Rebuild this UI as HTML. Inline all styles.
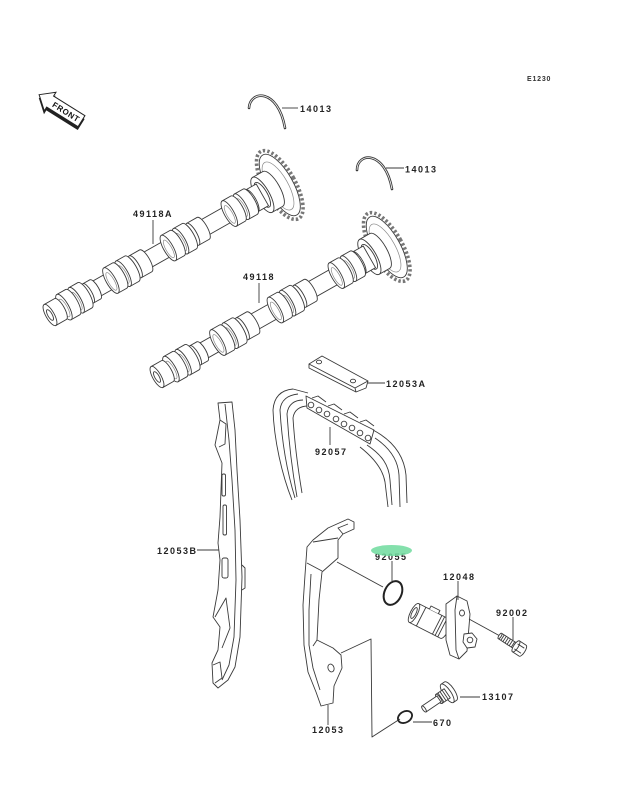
<!DOCTYPE html>
<html><head><meta charset="utf-8">
<style>
html,body{margin:0;padding:0;background:#fff;}
svg{display:block;}
.l{fill:#fff;stroke:#3a3a3a;stroke-width:0.9;stroke-linejoin:round}
.n{fill:none;stroke:#3a3a3a;stroke-width:0.9;stroke-linejoin:round}
.g{fill:none;stroke:#888;stroke-width:0.7}
.t{font-family:"Liberation Sans",Arial,sans-serif;font-weight:bold;font-size:9px;letter-spacing:1.5px;fill:#222}
</style></head>
<body>
<svg width="630" height="805" viewBox="0 0 630 805" xmlns="http://www.w3.org/2000/svg">
<defs>
<g id="cam">
  <!-- sprocket -->
  <ellipse cx="264" cy="0" rx="15.5" ry="38.5" fill="#fff" stroke="#777" stroke-width="3.6" stroke-dasharray="2.4 2.1"/>
  <ellipse cx="264" cy="0" rx="13.2" ry="34.5" class="l"/>
  <ellipse cx="262" cy="0" rx="10" ry="27" class="g"/>
  <!-- hub -->
  <path class="l" d="M244,-20H256A7,20 0 0 1 256,20H244Z"/>
  <ellipse class="l" cx="244" cy="0" rx="7" ry="20"/>
  <ellipse class="n" cx="244" cy="0" rx="5" ry="14"/>
  <!-- journal -->
  <path class="l" d="M232,-12.5H244V12.5H232Z"/>
  <ellipse class="l" cx="232" cy="0" rx="4.2" ry="12.5"/>
  <!-- shaft -->
  <path class="l" d="M6,-8.5H234V8.5H6Z"/>
  <!-- lobes far to near -->
  <path class="l" d="M220,-14.5H230A4.8,14.5 0 0 1 230,14.5H220Z"/><ellipse class="l" cx="220" cy="0" rx="4.8" ry="14.5"/><ellipse class="g" cx="220" cy="1" rx="3" ry="10"/>
  <path class="l" d="M206,-14.5H216A4.8,14.5 0 0 1 216,14.5H206Z"/><ellipse class="l" cx="206" cy="0" rx="4.8" ry="14.5"/><ellipse class="g" cx="206" cy="1" rx="3" ry="10"/>
  <path class="l" d="M164,-12.5H176A4.1,12.5 0 0 1 176,12.5H164Z"/><ellipse class="l" cx="164" cy="0" rx="4.1" ry="12.5"/>
  <path class="l" d="M150,-14.5H160A4.8,14.5 0 0 1 160,14.5H150Z"/><ellipse class="l" cx="150" cy="0" rx="4.8" ry="14.5"/><ellipse class="g" cx="150" cy="1" rx="3" ry="10"/>
  <path class="l" d="M136,-14.5H146A4.8,14.5 0 0 1 146,14.5H136Z"/><ellipse class="l" cx="136" cy="0" rx="4.8" ry="14.5"/><ellipse class="g" cx="136" cy="1" rx="3" ry="10"/>
  <path class="l" d="M98,-12.5H110A4.1,12.5 0 0 1 110,12.5H98Z"/><ellipse class="l" cx="98" cy="0" rx="4.1" ry="12.5"/>
  <path class="l" d="M84,-14.5H94A4.8,14.5 0 0 1 94,14.5H84Z"/><ellipse class="l" cx="84" cy="0" rx="4.8" ry="14.5"/><ellipse class="g" cx="84" cy="1" rx="3" ry="10"/>
  <path class="l" d="M70,-14.5H80A4.8,14.5 0 0 1 80,14.5H70Z"/><ellipse class="l" cx="70" cy="0" rx="4.8" ry="14.5"/><ellipse class="g" cx="70" cy="1" rx="3" ry="10"/>
  <path class="l" d="M44,-11H52A3.6,11 0 0 1 52,11H44Z"/><ellipse class="l" cx="44" cy="0" rx="3.6" ry="11"/>
  <path class="l" d="M30,-14.5H40A4.8,14.5 0 0 1 40,14.5H30Z"/><ellipse class="l" cx="30" cy="0" rx="4.8" ry="14.5"/><ellipse class="g" cx="30" cy="1" rx="3" ry="10"/>
  <path class="l" d="M16,-14.5H26A4.8,14.5 0 0 1 26,14.5H16Z"/><ellipse class="l" cx="16" cy="0" rx="4.8" ry="14.5"/><ellipse class="g" cx="16" cy="1" rx="3" ry="10"/>
  <path class="l" d="M0,-12H12A4,12 0 0 1 12,12H0Z"/><ellipse class="l" cx="0" cy="0" rx="4.2" ry="12"/>
  <ellipse class="l" cx="0" cy="0" rx="2.2" ry="6"/>
</g>
</defs>

<!-- E1230 -->
<text x="527" y="81" font-family="Liberation Sans, Arial, sans-serif" font-weight="bold" font-size="7" letter-spacing="0.8" fill="#333">E1230</text>

<!-- FRONT arrow -->
<g transform="translate(62,109) rotate(32)">
  <path d="M-25.5,3 L-12.5,-8 L-12.5,-3.5 L24.5,-3.5 L24.5,9.5 L-12.5,9.5 L-12.5,14 Z" fill="#222"/>
  <path d="M-27,0 L-14,-11 L-14,-6.5 L23,-6.5 L23,6.5 L-14,6.5 L-14,11 Z" fill="#fff" stroke="#222" stroke-width="1"/>
  <text x="5" y="3.2" text-anchor="middle" font-family="Liberation Sans, Arial, sans-serif" font-weight="bold" font-size="8" letter-spacing="0.6" fill="#111">FRONT</text>
</g>

<!-- 14013 rings -->
<path d="M249,108 C250,90 278,88 285,128" fill="none" stroke="#3a3a3a" stroke-width="2.6" stroke-linecap="round"/>
<path d="M249,108 C250,90 278,88 285,128" fill="none" stroke="#fff" stroke-width="0.8"/>
<line class="n" x1="282" y1="108" x2="298" y2="108"/>
<text class="t" x="300" y="112">14013</text>

<path d="M357,170 C357,152 385,150 392,189" fill="none" stroke="#3a3a3a" stroke-width="2.6" stroke-linecap="round"/>
<path d="M357,170 C357,152 385,150 392,189" fill="none" stroke="#fff" stroke-width="0.8"/>
<line class="n" x1="386" y1="168" x2="404" y2="168"/>
<text class="t" x="405" y="172.5">14013</text>

<!-- camshafts -->
<use href="#cam" transform="translate(50,315) rotate(-29.5)"/>
<use href="#cam" transform="translate(157,377) rotate(-29.5)"/>
<line class="n" x1="153" y1="220" x2="153" y2="244"/>
<text class="t" x="133" y="217">49118A</text>
<line class="n" x1="259" y1="283" x2="259" y2="303"/>
<text class="t" x="243" y="280">49118</text>

<!-- 12053A plate -->
<path class="l" d="M309,364 L322,356 L368,381 L366,388 L356,392 L309,368 Z"/>
<path class="n" d="M309,364 L355,388 L356,392 M355,388 L368,381"/>
<ellipse class="n" cx="319" cy="362" rx="2.6" ry="1.8"/>
<ellipse class="n" cx="353" cy="381" rx="2.6" ry="1.8"/>
<line class="n" x1="367" y1="383" x2="385" y2="383"/>
<text class="t" x="386" y="387">12053A</text>

<!-- chain 92057 -->
<path class="n" d="M293,389 C282,390 274,396 273,410 C274,440 282,475 292,500"/>
<path class="n" d="M298,394 C288,395 281,400 280,410 C282,445 288,475 295,498"/>
<path class="n" d="M303,400 C295,400 288,404 287,414 C289,445 293,475 297,497"/>
<path class="n" d="M308,406 C300,406 294,410 293,418 C295,450 299,475 302,493"/>
<path class="n" d="M293,389 L308,393"/>
<path class="l" d="M306,396 L374,430 L370,444 L307,408 Z"/>
<g class="l">
  <circle cx="311" cy="405" r="2.8"/><circle cx="319" cy="410" r="2.8"/><circle cx="327" cy="414" r="2.8"/>
  <circle cx="336" cy="419" r="2.8"/><circle cx="344" cy="424" r="2.8"/><circle cx="352" cy="428" r="2.8"/>
  <circle cx="360" cy="433" r="2.8"/><circle cx="368" cy="438" r="2.8"/>
</g>
<path class="n" d="M312,398 L318,396 L326,402 M328,406 L334,404 L342,410 M344,414 L350,412 L358,418 M360,422 L366,420 L374,426"/>
<path class="n" d="M373,430 C392,440 404,455 406,475 L407,503"/>
<path class="n" d="M375,438 C390,448 398,460 399,475 L400,507"/>
<path class="n" d="M367,445 C382,455 389,465 390,480 L392,505"/>
<path class="n" d="M360,447 C374,458 383,470 385,482 L388,507"/>
<line class="n" x1="330" y1="427" x2="330" y2="445"/>
<text class="t" x="315" y="455">92057</text>

<!-- 12053B guide -->
<path class="l" d="M218,403 L232,402 L235,430 L237,470 L240,520 L242,577 L240,637 L235,667 L228,680 L218,688 L213,683 L212,663 L218,650 L220,627 L213,617 L218,590 L220,560 L218,543 L220,517 L222,463 L215,445 L220,420 Z"/>
<path class="n" d="M225,404 L229,440 L232,480 L235,530 L236,580 L234,637 L229,665 L222,680"/>
<path class="n" d="M220,420 L226,424 L225,444 L219,447"/>
<rect class="n" x="222" y="474" width="3.5" height="22" rx="1.5"/>
<rect class="n" x="223" y="505" width="3.5" height="30" rx="1.5"/>
<rect class="n" x="222" y="558" width="6" height="20" rx="2"/>
<path class="n" d="M215,617 L226,598 L230,628 L222,648"/>
<path class="n" d="M213,665 L220,662 L222,678 L215,683"/>
<path class="n" d="M242,565 L245,568 L245,588 L242,590"/>
<line class="n" x1="197" y1="550" x2="219" y2="550"/>
<text class="t" x="157" y="554">12053B</text>

<!-- 12053 tensioner guide -->
<path class="l" d="M307,547 L313,540 L328,528 L348,519 L354,522 L354,529 L343,534 L338,540 L338,558 L322,572 L319,600 L317,640 L333,648 L341,655 L342,668 L334,686 L333,703 L321,706 L316,692 L308,672 L304,645 L303,605 L305,575 Z"/>
<path class="n" d="M307,563 L322,571 M313,542 L338,538 M343,534 L338,528 L348,524 M311,574 L309,610 L309,645 L313,668 L320,690 M317,640 L313,646"/>
<ellipse class="n" cx="331" cy="668" rx="3" ry="4" transform="rotate(-20 331 668)"/>
<line class="n" x1="328" y1="705" x2="328" y2="725"/>
<text class="t" x="312" y="733">12053</text>

<!-- bracket -->
<path class="n" d="M341,653 L371,639 L372,737 L400,719"/>

<!-- 92055 o-ring -->
<line class="n" x1="337" y1="562" x2="383" y2="587"/>
<ellipse cx="393" cy="593" rx="8.5" ry="12.5" transform="rotate(25 393 593)" fill="none" stroke="#222" stroke-width="2"/>
<line class="n" x1="392" y1="561" x2="392" y2="581"/>
<text class="t" x="375" y="560">92055</text>
<ellipse cx="391.5" cy="550.5" rx="20.5" ry="5.5" fill="#6fdb9e" opacity="0.85"/>

<!-- 12048 tensioner -->
<g transform="translate(414,613) rotate(27)">
  <path class="l" d="M0,-10.5H35A3.6,10.5 0 0 1 35,10.5H0Z"/>
  <path class="l" d="M12,-10.5V-14H22V-10.5"/>
  <path class="n" d="M8,-10.5V10.5M26,-10.5V10.5M29,-10.5V10.5M32,-10.5V10.5"/>
  <ellipse class="l" cx="0" cy="0" rx="3.6" ry="10.5"/>
  <ellipse class="n" cx="0" cy="0" rx="2" ry="6"/>
</g>
<path class="l" d="M446,604 L457,596 L467,601 L470,614 L467,651 L459,659 L450,655 L446,640 Z"/>
<path class="n" d="M457,596 L455,610 L456,650 L459,659"/>
<ellipse class="n" cx="462" cy="613" rx="2.5" ry="3"/>
<path class="l" d="M464,634 L472,633 L477,639 L475,647 L467,648 L463,642 Z"/>
<circle class="n" cx="470" cy="640" r="2.8"/>
<line class="n" x1="458" y1="581" x2="458" y2="600"/>
<text class="t" x="443" y="580">12048</text>
<line class="n" x1="469" y1="619" x2="500" y2="636"/>

<!-- 92002 bolt -->
<g transform="translate(500,636) rotate(33)">
  <path class="l" d="M0,-3.2H19V3.2H0Z"/>
  <path class="n" d="M3,-3.2V3.2M5.5,-3.2V3.2M8,-3.2V3.2M10.5,-3.2V3.2M13,-3.2V3.2M15.5,-3.2V3.2"/>
  <path class="l" d="M19,-6.5H27A2.3,6.5 0 0 1 27,6.5H19Z"/>
  <ellipse class="l" cx="19" cy="0" rx="2.3" ry="6.5"/>
  <path class="n" d="M19,-3H27M19,3H27"/>
  <ellipse class="l" cx="0" cy="0" rx="1.2" ry="3.2"/>
</g>
<line class="n" x1="513" y1="617" x2="513" y2="640"/>
<text class="t" x="496" y="616">92002</text>

<!-- 13107 plug -->
<g transform="translate(424,709) rotate(-34)">
  <path class="l" d="M28,-11H32A3.8,11 0 0 1 32,11H28Z"/>
  <ellipse class="l" cx="28" cy="0" rx="3.8" ry="11"/>
  <path class="l" d="M18,-5.5H28V5.5H18Z"/>
  <path class="n" d="M20.5,-5.5V5.5M23,-5.5V5.5M25.5,-5.5V5.5"/>
  <ellipse class="l" cx="18" cy="0" rx="1.8" ry="5.5"/>
  <path class="l" d="M0,-3.6H18V3.6H0Z"/>
  <ellipse class="l" cx="0" cy="0" rx="1.4" ry="3.6"/>
</g>
<line class="n" x1="460" y1="697" x2="480" y2="697"/>
<text class="t" x="482" y="700">13107</text>

<!-- 670 o-ring -->
<ellipse cx="405" cy="717" rx="7.5" ry="5.5" transform="rotate(-30 405 717)" fill="none" stroke="#222" stroke-width="1.8"/>
<line class="n" x1="413" y1="722" x2="432" y2="722"/>
<text class="t" x="433" y="726">670</text>
</svg>
</body></html>
